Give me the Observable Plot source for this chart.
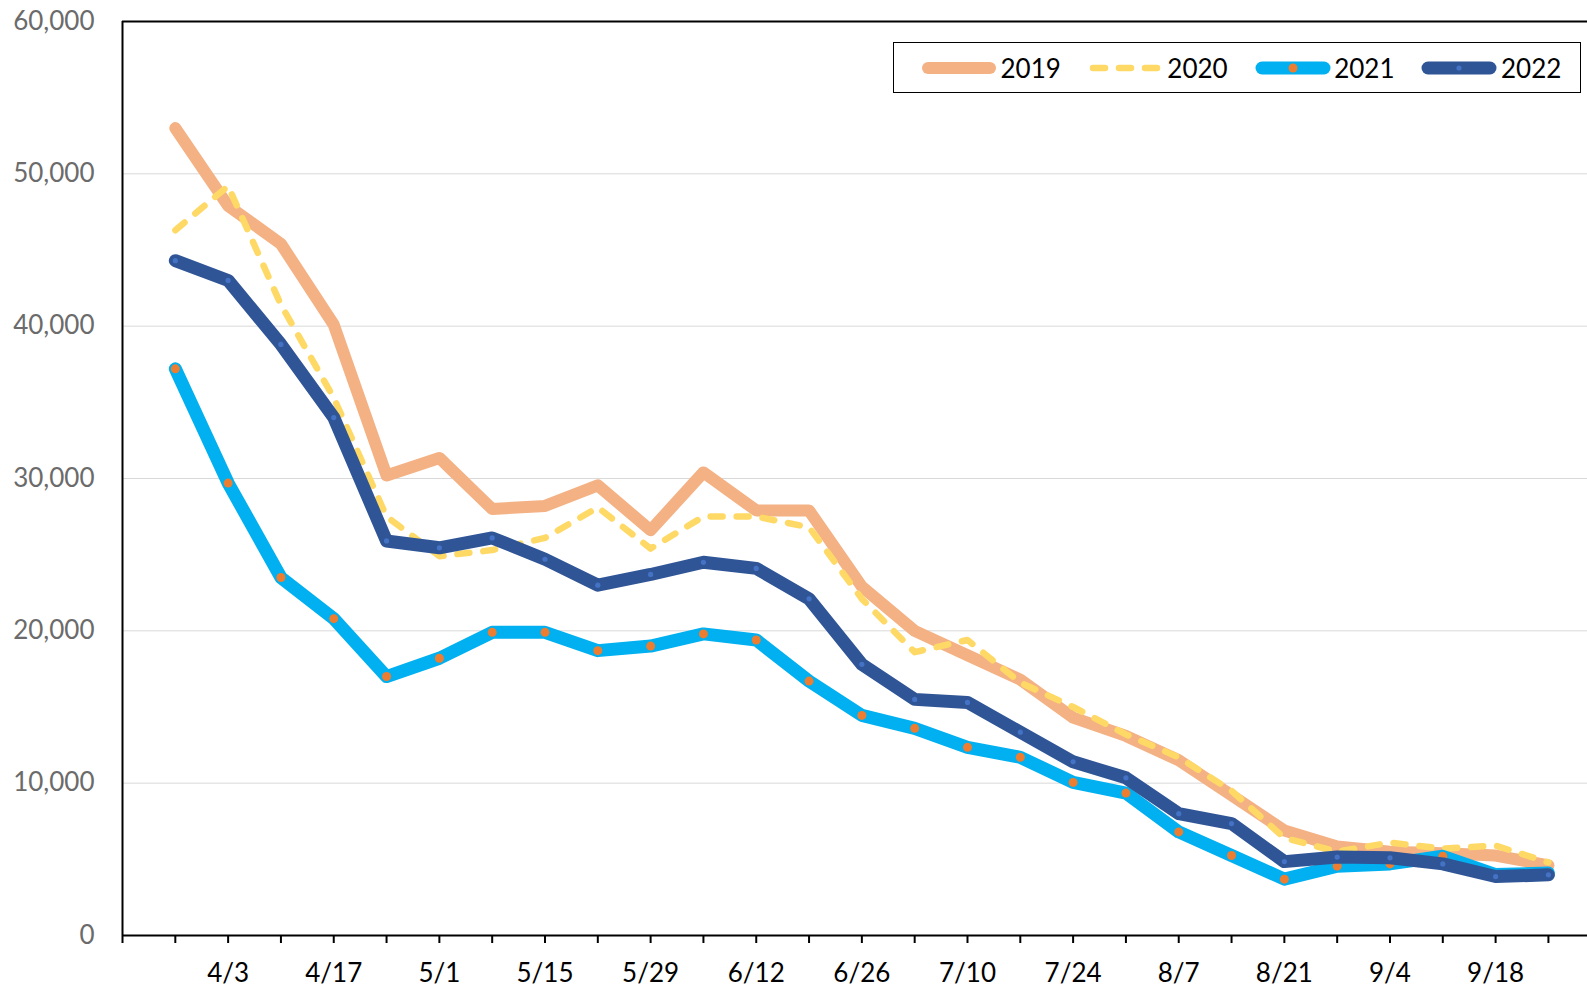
<!DOCTYPE html>
<html>
<head>
<meta charset="utf-8">
<script src="https://cdn.jsdelivr.net/npm/d3@7"></script>
<script src="https://cdn.jsdelivr.net/npm/@observablehq/plot@0.6"></script>
<style>
  body { margin: 0; background: #fff; }
  #wrap { position: relative; width: 1587px; height: 990px; }
  #legend {
    position: absolute; left: 893px; top: 42px; width: 688px; height: 51px;
    box-sizing: border-box; border: 1.5px solid #000; background: #fff;
    display: flex; align-items: center; padding-left: 27px;
    font-family: Lato, "Open Sans", sans-serif; font-size: 26px; color: #000;
  }
  .item { display: flex; align-items: center; margin-right: 27px; }
  .item svg { display: block; margin-right: 3.5px; }
</style>
</head>
<body>
<div id="wrap"></div>
<script>
// Week labels (category axis)
const weeks = ["3/27","4/3","4/10","4/17","4/24","5/1","5/8","5/15","5/22","5/29","6/5","6/12","6/19","6/26",
               "7/3","7/10","7/17","7/24","7/31","8/7","8/14","8/21","8/28","9/4","9/11","9/18","9/25"];
const years = ["2019", "2020", "2021", "2022"];
const v2019 = [53000, 47900, 45400, 40100, 30200, 31350, 28000, 28200, 29550, 26600, 30400, 27900, 27900, 22900,
               20000, 18400, 16800, 14300, 13100, 11500, 9200, 6900, 5850, 5500, 5400, 5250, 4600];
const v2020 = [46300, 49200, 41400, 35300, 27500, 24900, 25300, 26100, 28100, 25400, 27500, 27500, 26800, 22100,
               18600, 19400, 16600, 15000, 13200, 11700, 9500, 6400, 5500, 6100, 5700, 5900, 4800];
const v2021 = [37200, 29700, 23500, 20800, 17000, 18200, 19900, 19900, 18700, 19000, 19800, 19400, 16700, 14450,
               13600, 12350, 11700, 10050, 9350, 6800, 5250, 3700, 4550, 4700, 5200, 4000, 4100];
const v2022 = [44300, 43000, 38800, 34000, 25900, 25450, 26100, 24700, 23000, 23700, 24500, 24100, 22100, 17800,
               15500, 15300, 13350, 11400, 10350, 8000, 7350, 4850, 5150, 5100, 4700, 3870, 3980];
const yTicks = [0, 10000, 20000, 30000, 40000, 50000, 60000];

const lineColors = ["#F4B183", "#FFD966", "#00B0F0", "#2F5597"];
const markerColors = [null, null, "#ED7D31", "#4472C4"];

const values = [v2019, v2020, v2021, v2022];
const series = years.map((yr, k) => values[k].map((v, i) => ({year: yr, i, v})));

const lineOpts = {x: "i", y: "v", strokeLinecap: "round", strokeLinejoin: "round"};

const chart = Plot.plot({
  width: 1587,
  height: 990,
  marginLeft: 122,
  marginRight: 0,
  marginTop: 21,
  marginBottom: 55,
  style: {fontFamily: "Lato, 'Open Sans', sans-serif", fontSize: "26px", background: "#fff", overflow: "visible"},
  x: {type: "linear", domain: [-1, 26.74], axis: null},
  y: {domain: [0, 60000], axis: null},
  marks: [
    Plot.ruleY(yTicks.filter(t => t > 0 && t < 60000), {stroke: "#D9D9D9", strokeWidth: 1}),
    Plot.ruleY([60000], {stroke: "#000", strokeWidth: 2}),
    Plot.line(series[0], {...lineOpts, stroke: lineColors[0], strokeWidth: 12}),
    Plot.line(series[1], {...lineOpts, stroke: lineColors[1], strokeWidth: 6.5, strokeDasharray: "12,14"}),
    Plot.line(series[2], {...lineOpts, stroke: lineColors[2], strokeWidth: 13}),
    Plot.dot(series[2], {x: "i", y: "v", r: 4.5, fill: markerColors[2], stroke: "none"}),
    Plot.line(series[3], {...lineOpts, stroke: lineColors[3], strokeWidth: 13}),
    Plot.dot(series[3], {x: "i", y: "v", r: 2.6, fill: markerColors[3], stroke: "none"}),
    Plot.ruleY([0], {stroke: "#000", strokeWidth: 2}),
    Plot.ruleX([-1], {stroke: "#000", strokeWidth: 2}),
    Plot.axisX({
      ticks: d3.range(-1, 27),
      tickSize: 8,
      tickPadding: 20,
      strokeWidth: 2,
      color: "#000",
      tickFormat: i => (i > 0 && i % 2 === 1) ? weeks[i] : "",
      label: null
    }),
    Plot.axisY({
      ticks: yTicks,
      tickSize: 0,
      tickPadding: 28,
      color: "#6B6B6B",
      tickFormat: d3.format(","),
      label: null
    })
  ]
});

const wrap = document.getElementById("wrap");
wrap.appendChild(chart);

// Legend
const legend = document.createElement("div");
legend.id = "legend";
const ns = "http://www.w3.org/2000/svg";
years.forEach((yr, k) => {
  const item = document.createElement("div");
  item.className = "item";
  const svg = document.createElementNS(ns, "svg");
  svg.setAttribute("width", 76);
  svg.setAttribute("height", 20);
  const line = document.createElementNS(ns, "line");
  line.setAttribute("x1", k === 1 ? 5 : 7);
  line.setAttribute("x2", k === 1 ? 72 : 69);
  line.setAttribute("y1", 10);
  line.setAttribute("y2", 10);
  line.setAttribute("stroke", lineColors[k]);
  line.setAttribute("stroke-width", k === 1 ? 6.5 : (k === 0 ? 12 : 13));
  line.setAttribute("stroke-linecap", "round");
  if (k === 1) line.setAttribute("stroke-dasharray", "12,14");
  svg.appendChild(line);
  if (markerColors[k]) {
    const c = document.createElementNS(ns, "circle");
    c.setAttribute("cx", 38);
    c.setAttribute("cy", 10);
    c.setAttribute("r", k === 2 ? 4.5 : 2.6);
    c.setAttribute("fill", markerColors[k]);
    svg.appendChild(c);
  }
  const label = document.createElement("span");
  label.textContent = yr;
  item.appendChild(svg);
  item.appendChild(label);
  legend.appendChild(item);
});
wrap.appendChild(legend);
</script>
</body>
</html>
